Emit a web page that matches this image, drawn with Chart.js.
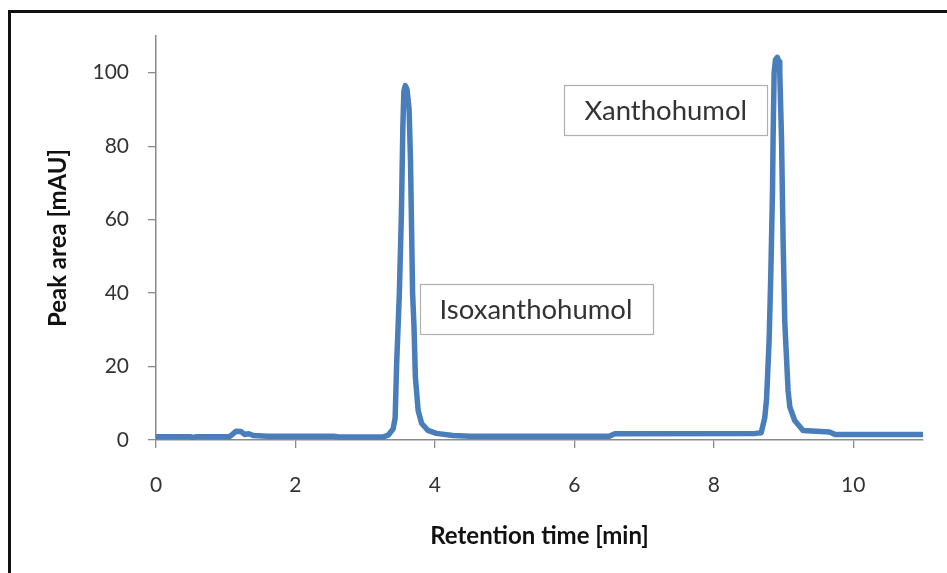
<!DOCTYPE html>
<html><head><meta charset="utf-8">
<script src="https://cdn.jsdelivr.net/npm/chart.js@4.4.1/dist/chart.umd.min.js"></script>
<style>html,body{margin:0;padding:0;background:#fff;}canvas{display:block;}</style>
</head><body>
<canvas id="c" width="947" height="573"></canvas>
<script>
// Retention time (min) and detector signal (mAU)
const retentionTime = [0.00,0.50,0.53,0.57,1.05,1.10,1.15,1.22,1.27,1.33,1.40,1.60,2.55,2.62,3.25,3.33,3.40,3.43,3.45,3.49,3.52,3.54,3.555,3.575,3.60,3.63,3.65,3.665,3.68,3.70,3.72,3.76,3.81,3.90,4.02,4.26,4.50,6.50,6.58,8.60,8.68,8.73,8.756,8.793,8.817,8.842,8.85,8.865,8.884,8.91,8.935,8.946,8.971,8.994,9.018,9.042,9.065,9.09,9.16,9.28,9.66,9.74,11.0];
const peakSignal    = [0.9,0.9,0.6,0.9,0.9,1.6,2.4,2.3,1.5,1.7,1.2,1.0,1.0,0.8,0.8,1.3,3.0,6.0,20,40,62,85,95,96.5,95.5,90,76,58,40,31,17,8,4.5,2.6,1.8,1.2,1.0,1.0,1.7,1.8,2.0,6,11,27,45,68,82,100,103.5,104.2,103,100,82,54,32,22.5,13.5,9,5.3,2.6,2.2,1.5,1.5];
const xTickValues = [0,2,4,6,8,10];
const yTickValues = [0,20,40,60,80,100];
const peakLabels = ['Isoxanthohumol','Xanthohumol'];
const peakLabelTime = [5.45, 7.31];
const peakLabelSignal = [35.6, 89.9];
const xTitle = 'Retention time [min]';
const yTitle = 'Peak area [mAU]';

const framePlugin = {
  id:'frame',
  beforeDraw(chart){
    const ctx = chart.ctx;
    ctx.save();
    ctx.fillStyle = '#fff';
    ctx.fillRect(0,0,chart.width,chart.height);
    ctx.fillStyle = '#111';
    ctx.fillRect(8,10,3,chart.height-10);
    ctx.fillRect(8,10,chart.width-8,3);
    ctx.restore();
  }
};
const labelPlugin = {
  id:'peakLabels',
  afterDatasetsDraw(chart){
    const {ctx, scales:{x,y}} = chart;
    ctx.save();
    ctx.font = '27.5px Lato';
    peakLabels.forEach((txt,i)=>{
      const cx = x.getPixelForValue(peakLabelTime[i]);
      const cy = y.getPixelForValue(peakLabelSignal[i]);
      const w = Math.round(ctx.measureText(txt).width + 40);
      const h = 50;
      const l = Math.round(cx - w/2), t = Math.round(cy - h/2);
      ctx.fillStyle = '#fff';
      ctx.fillRect(l,t,w,h);
      ctx.strokeStyle = '#b0b0b0';
      ctx.lineWidth = 1.2;
      ctx.strokeRect(l+0.5,t+0.5,w,h);
      ctx.fillStyle = '#333';
      ctx.textAlign = 'center';
      ctx.textBaseline = 'middle';
      ctx.fillText(txt, cx, cy + 1);
    });
    ctx.restore();
  }
};

function draw(){
  const ctx = document.getElementById('c').getContext('2d');
  new Chart(ctx, {
    type:'line',
    data:{datasets:[{
      data: retentionTime.map((t,i)=>({x:t, y:peakSignal[i]})),
      borderColor:'#4a7ebb', borderWidth:5.5, pointRadius:0, tension:0, fill:false,
      borderJoinStyle:'round', borderCapStyle:'round'
    }]},
    options:{
      responsive:false, animation:false, devicePixelRatio:1,
      layout:{padding:{left:0, top:36, right:24, bottom:0}},
      plugins:{legend:{display:false}, tooltip:{enabled:false}},
      scales:{
        x:{
          type:'linear', min:0, max:11,
          afterBuildTicks:s=>{ s.ticks = xTickValues.map(v=>({value:v})); },
          afterFit:s=>{ s.height = 133; },
          grid:{drawOnChartArea:false, drawTicks:true, tickLength:8, color:'#8a8a8a', lineWidth:1.3},
          border:{display:true, color:'#8a8a8a', width:1.5},
          ticks:{padding:25, font:{family:'Lato', size:21}, color:'#333', maxRotation:0, autoSkip:false},
          title:{display:true, text:xTitle, font:{family:'Lato', size:24, weight:'bold'}, color:'#111', padding:{top:0, bottom:22}}
        },
        y:{
          type:'linear', min:0, max:110,
          afterBuildTicks:s=>{ s.ticks = yTickValues.map(v=>({value:v})); },
          afterFit:s=>{ s.width = 156; },
          grid:{drawOnChartArea:false, drawTicks:true, tickLength:8, color:'#8a8a8a', lineWidth:1.3},
          border:{display:true, color:'#8a8a8a', width:1.5},
          ticks:{padding:19, font:{family:'Lato', size:21}, color:'#333', autoSkip:false},
          title:{display:true, text:yTitle, font:{family:'Lato', size:24, weight:'bold'}, color:'#111', padding:{top:44, bottom:0}}
        }
      }
    },
    plugins:[framePlugin, labelPlugin]
  });
}
const fl = document.fonts ? Promise.all([document.fonts.load('21px Lato'), document.fonts.load('bold 24px Lato'), document.fonts.load('27.5px Lato')]) : Promise.resolve();
fl.then(draw, draw);
</script>
</body></html>
